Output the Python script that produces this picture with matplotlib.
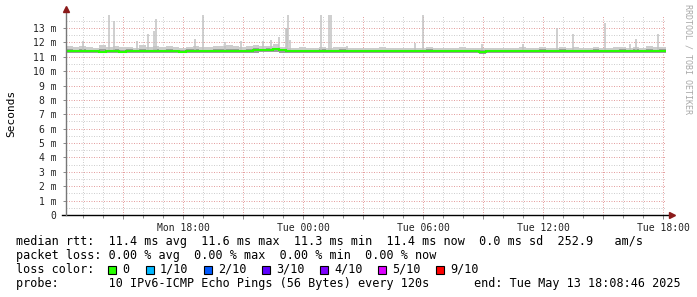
import datetime as dt

import matplotlib
matplotlib.use("Agg")
import matplotlib.dates as mdates
import matplotlib.pyplot as plt
from matplotlib.patches import Rectangle
from matplotlib.ticker import FuncFormatter, MultipleLocator

W, H = 697, 297
END = dt.datetime(2025, 5, 13, 18, 8, 46)
START = END - dt.timedelta(hours=30)
STEP = dt.timedelta(minutes=20)

# median rtt per 20 min slot (ms)
median_ms = [
    11.42, 11.40, 11.37, 11.41, 11.39, 11.36, 11.40, 11.38, 11.35, 11.39,
    11.41, 11.38, 11.37, 11.40, 11.42, 11.39, 11.38, 11.36, 11.39, 11.41,
    11.38, 11.40, 11.37, 11.39, 11.41, 11.43, 11.40, 11.42, 11.44, 11.47,
    11.50, 11.54, 11.45, 11.42, 11.40, 11.41, 11.39, 11.40, 11.42, 11.38,
    11.40, 11.43, 11.41, 11.39, 11.40, 11.42, 11.40, 11.38, 11.41, 11.40,
    11.39, 11.41, 11.43, 11.40, 11.38, 11.40, 11.42, 11.39, 11.37, 11.39,
    11.41, 11.38, 11.36, 11.38, 11.40, 11.37, 11.39, 11.41, 11.38, 11.40,
    11.42, 11.39, 11.37, 11.40, 11.38, 11.41, 11.39, 11.37, 11.40, 11.42,
    11.39, 11.37, 11.40, 11.38, 11.41, 11.39, 11.40, 11.42, 11.38, 11.40,
]

# smoke: outer top, inner top, common bottom (ms)
smoke_hi_ms = [
    11.72, 11.65, 11.78, 11.70, 11.62, 11.80, 11.68, 11.75, 11.66, 11.70,
    11.64, 11.82, 11.70, 11.76, 11.66, 11.72, 11.68, 11.62, 11.70, 11.74,
    11.66, 11.70, 11.78, 11.72, 11.80, 11.74, 11.68, 11.76, 11.82, 11.74,
    11.78, 11.85, 11.70, 11.64, 11.62, 11.66, 11.60, 11.63, 11.68, 11.62,
    11.65, 11.70, 11.62, 11.60, 11.64, 11.58, 11.62, 11.66, 11.60, 11.63,
    11.61, 11.58, 11.64, 11.62, 11.68, 11.60, 11.63, 11.59, 11.62, 11.66,
    11.60, 11.63, 11.58, 11.61, 11.64, 11.60, 11.58, 11.62, 11.65, 11.60,
    11.62, 11.66, 11.60, 11.64, 11.70, 11.62, 11.66, 11.60, 11.63, 11.68,
    11.64, 11.60, 11.66, 11.70, 11.62, 11.68, 11.64, 11.72, 11.66, 11.70,
]
smoke_mid_ms = [
    11.52, 11.48, 11.55, 11.50, 11.47, 11.56, 11.49, 11.53, 11.46, 11.51,
    11.48, 11.57, 11.50, 11.54, 11.47, 11.52, 11.49, 11.46, 11.51, 11.55,
    11.47, 11.50, 11.56, 11.52, 11.57, 11.54, 11.49, 11.55, 11.58, 11.56,
    11.60, 11.64, 11.53, 11.49, 11.48, 11.50, 11.46, 11.48, 11.51, 11.47,
    11.49, 11.53, 11.47, 11.46, 11.49, 11.45, 11.47, 11.50, 11.46, 11.48,
    11.47, 11.45, 11.49, 11.48, 11.52, 11.46, 11.48, 11.45, 11.47, 11.50,
    11.46, 11.48, 11.45, 11.47, 11.49, 11.46, 11.45, 11.47, 11.50, 11.46,
    11.48, 11.51, 11.46, 11.49, 11.53, 11.47, 11.50, 11.46, 11.48, 11.52,
    11.49, 11.46, 11.50, 11.54, 11.47, 11.52, 11.49, 11.55, 11.50, 11.53,
]
smoke_lo_ms = [
    11.27, 11.25, 11.28, 11.26, 11.24, 11.27, 11.25, 11.23, 11.26, 11.28,
    11.26, 11.24, 11.27, 11.25, 11.28, 11.26, 11.24, 11.25, 11.27, 11.26,
    11.25, 11.27, 11.24, 11.26, 11.28, 11.27, 11.25, 11.28, 11.29, 11.30,
    11.32, 11.34, 11.29, 11.27, 11.26, 11.28, 11.25, 11.27, 11.28, 11.25,
    11.27, 11.29, 11.26, 11.25, 11.27, 11.28, 11.26, 11.24, 11.27, 11.26,
    11.25, 11.27, 11.29, 11.26, 11.24, 11.26, 11.28, 11.25, 11.23, 11.25,
    11.27, 11.24, 11.22, 11.24, 11.26, 11.23, 11.25, 11.27, 11.24, 11.26,
    11.28, 11.25, 11.23, 11.26, 11.24, 11.27, 11.25, 11.23, 11.26, 11.28,
    11.25, 11.23, 11.26, 11.24, 11.27, 11.25, 11.26, 11.28, 11.24, 11.26,
]

# single slow pings (max of a round)
spike_times = [
    "2025-05-12 13:00", "2025-05-12 14:19", "2025-05-12 14:34", "2025-05-12 15:42",
    "2025-05-12 16:15", "2025-05-12 16:33", "2025-05-12 16:40", "2025-05-12 18:35",
    "2025-05-12 18:59", "2025-05-12 20:06", "2025-05-12 20:54", "2025-05-12 21:59",
    "2025-05-12 22:23", "2025-05-12 22:47", "2025-05-12 23:10", "2025-05-12 23:13",
    "2025-05-12 23:16", "2025-05-12 23:21", "2025-05-13 00:54", "2025-05-13 01:19",
    "2025-05-13 01:23", "2025-05-13 02:11", "2025-05-13 05:35", "2025-05-13 05:59",
    "2025-05-13 08:57", "2025-05-13 11:00", "2025-05-13 12:41", "2025-05-13 13:29",
    "2025-05-13 15:05", "2025-05-13 16:21", "2025-05-13 16:39", "2025-05-13 17:45",
]
spike_tops_ms = [
    12.10, 13.90, 13.50, 12.10,
    12.60, 12.80, 13.60, 12.25,
    13.90, 12.00, 12.10, 12.10,
    12.15, 12.40, 13.00, 13.00,
    13.90, 12.15, 13.90, 13.90,
    13.90, 11.75, 11.97, 13.95,
    11.90, 11.90, 13.00, 12.57,
    13.35, 11.90, 12.20, 12.60,
]

loss_labels = ["0", "1/10", "2/10", "3/10", "4/10", "5/10", "9/10"]
loss_colors = ["#26ff00", "#00b8ff", "#0059ff", "#5e00ff", "#7e00ff", "#dd00ff", "#ff0000"]
loss_box_px = [108, 146, 204, 262, 320, 378, 436]

stats_lines = [
    "median rtt:  11.4 ms avg  11.6 ms max  11.3 ms min  11.4 ms now  0.0 ms sd  252.9   am/s",
    "packet loss: 0.00 % avg  0.00 % max  0.00 % min  0.00 % now",
]
probe_text = "probe:       10 IPv6-ICMP Echo Pings (56 Bytes) every 120s"
end_text = "end: Tue May 13 18:08:46 2025"

Y_MAX = 13.9
ARROW = "#8b1a1a"


def fx(px):
    return px / W


def fy(py):
    return 1 - py / H


def main():
    plt.rcParams["font.family"] = "DejaVu Sans Mono"
    fig = plt.figure(figsize=(W / 100, H / 100), dpi=100)
    ax = fig.add_axes([fx(66), fy(215), 600 / W, 200 / H])

    edges = mdates.date2num([START + i * STEP for i in range(len(median_ms) + 1)])

    ax.stairs(smoke_hi_ms, edges, baseline=smoke_lo_ms, fill=True, color="#cdcdcd", zorder=2)
    ax.stairs(smoke_mid_ms, edges, baseline=smoke_lo_ms, fill=True, color="#9c9c9c", zorder=2.1)

    st = mdates.date2num([dt.datetime.strptime(s, "%Y-%m-%d %H:%M") for s in spike_times])
    ax.vlines(st, 11.5, spike_tops_ms, color="#c2c2c2", lw=1.1, zorder=2.2)

    ax.stairs(median_ms, edges, baseline=None, color="#26ff00", lw=1.5, zorder=3)

    ax.set_xlim(mdates.date2num(START), mdates.date2num(END))
    ax.set_ylim(0, Y_MAX)

    ax.xaxis.set_major_locator(mdates.HourLocator(byhour=range(0, 24, 3)))
    ax.xaxis.set_minor_locator(mdates.HourLocator())

    def xfmt(v, pos):
        d = mdates.num2date(v)
        return d.strftime("%a %H:%M") if d.hour % 6 == 0 else ""

    ax.xaxis.set_major_formatter(FuncFormatter(xfmt))
    ax.yaxis.set_major_locator(MultipleLocator(1))
    ax.yaxis.set_minor_locator(MultipleLocator(0.5))
    ax.yaxis.set_major_formatter(FuncFormatter(lambda v, p: "0" if v == 0 else f"{int(round(v))} m"))

    dots = (0, (1, 1.5))
    ax.grid(True, which="minor", color="#cfcfcf", linestyle=dots, lw=0.72, zorder=1)
    ax.grid(True, which="major", color="#e4a0a0", linestyle=dots, lw=0.72, zorder=1)
    ax.set_axisbelow(True)

    ax.tick_params(which="both", direction="out", color="#888888", width=0.7)
    ax.tick_params(axis="y", which="major", length=2, pad=5, labelsize=7, labelcolor="#222222")
    ax.tick_params(axis="y", which="minor", length=0)
    ax.tick_params(axis="x", which="major", length=3, pad=3, labelsize=7, labelcolor="#222222")
    ax.tick_params(axis="x", which="minor", length=2)

    for s in ax.spines.values():
        s.set_visible(False)

    # axis lines with rrdtool style arrows
    ax.plot([-4 / 600, 602 / 600], [0, 0], transform=ax.transAxes, clip_on=False,
            color="black", lw=1.0, zorder=4)
    ax.plot([1.01], [0], marker=">", ms=4.5, color=ARROW, transform=ax.transAxes,
            clip_on=False, zorder=5)
    ax.plot([0, 0], [0, 1.025], transform=ax.transAxes, clip_on=False,
            color="#777777", lw=1.0, zorder=4)
    ax.plot([0], [1.03], marker="^", ms=4.5, color=ARROW, transform=ax.transAxes,
            clip_on=False, zorder=5)

    fig.text(fx(11), fy(113), "Seconds", rotation=90, ha="center", va="center", fontsize=8)
    fig.text(fx(688), fy(4), "RRDTOOL / TOBI OETIKER", rotation=270, ha="center", va="top",
             fontsize=6, color="#a8a8a8")

    fs = 8.5
    fig.text(fx(16), fy(241.5), stats_lines[0], fontsize=fs, va="center")
    fig.text(fx(16), fy(255.5), stats_lines[1], fontsize=fs, va="center")
    fig.text(fx(16), fy(269.5), "loss color:", fontsize=fs, va="center")
    for bx, col, lab in zip(loss_box_px, loss_colors, loss_labels):
        fig.patches.append(Rectangle((fx(bx), fy(273.5)), 8 / W, 8 / H, transform=fig.transFigure,
                                     facecolor=col, edgecolor="black", lw=0.8))
        fig.text(fx(bx + 14), fy(269.5), lab, fontsize=fs, va="center")
    fig.text(fx(16), fy(283), probe_text, fontsize=fs, va="center")
    fig.text(fx(681), fy(283), end_text, fontsize=fs, va="center", ha="right")

    fig.savefig("out.png", dpi=100)
    plt.close(fig)


if __name__ == "__main__":
    main()
